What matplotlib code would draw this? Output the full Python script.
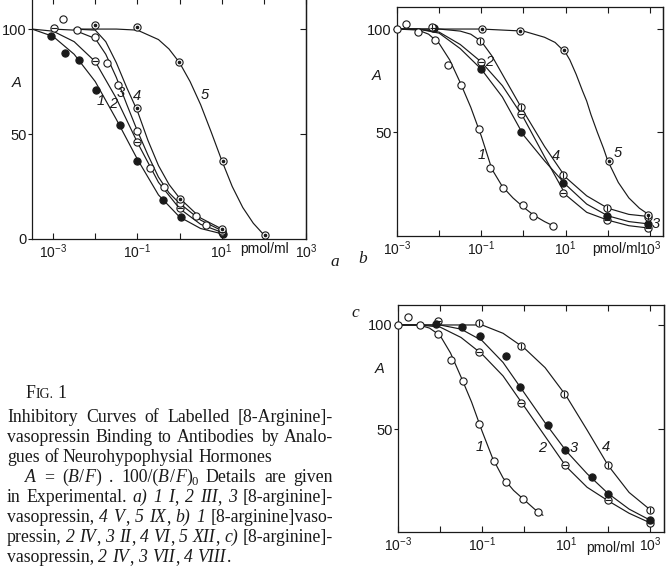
import numpy as np
import matplotlib
matplotlib.use("Agg")
import matplotlib.pyplot as plt
from matplotlib.ticker import FixedLocator, FixedFormatter, NullLocator
from matplotlib.transforms import IdentityTransform

plt.rcParams['font.family'] = ['Liberation Sans', 'DejaVu Sans']
plt.rcParams['mathtext.fontset'] = 'custom'
plt.rcParams['mathtext.rm'] = 'Liberation Sans'
plt.rcParams['mathtext.it'] = 'Liberation Sans:italic'
plt.rcParams['mathtext.sf'] = 'Liberation Sans'

INK = '#1a1a1a'
W, H = 670, 567

# ---------------- data (x as log10 of concentration in pmol/ml, y = A) ----------------
# panel a : points
a1_x = [-3.04, -2.71, -2.39, -1.97, -1.42, -1.00, -0.39, 0.03, 1.02]
a1_y = [96.8, 88.6, 85.4, 71.1, 54.4, 37.3, 18.7, 10.5, 2.4]
a2_x = [-2.98, -2.0, -1.0, 0.0, 1.0]
a2_y = [100.5, 84.6, 46.0, 14.6, 3.2]
a3_x = [-2.76, -2.43, -2.0, -1.73, -1.45, -1.0, -0.70, -0.36, 0.0, 0.40, 0.63, 1.0]
a3_y = [104.6, 99.4, 96.3, 83.8, 73.5, 51.6, 33.7, 24.6, 17.0, 11.1, 6.7, 4.0]
a4_x = [-2.0, -1.0, 0.0, 1.0]
a4_y = [101.8, 62.3, 19.0, 4.8]
a5_x = [-1.02, -0.02, 1.02, 2.03]
a5_y = [100.8, 84.3, 37.0, 1.9]
# panel a : fitted curves
a1_cx = [-3.5, -3.0, -2.5, -2.0, -1.5, -1.0, -0.5, 0.0, 0.5, 1.0]
a1_cy = [100, 96.5, 88, 75, 57, 38, 21, 10.5, 5, 2.5]
a2_cx = [-3.5, -3.0, -2.5, -2.0, -1.5, -1.0, -0.5, 0.0, 0.5, 1.0]
a2_cy = [100, 99, 94, 84.5, 67, 46, 27, 14.5, 7, 3.2]
a3_cx = [-3.0, -2.5, -2.0, -1.75, -1.5, -1.25, -1.0, -0.75, -0.5, -0.25, 0.0, 0.5, 1.0]
a3_cy = [100, 99.5, 95.5, 88, 77, 64, 51.5, 40, 29.5, 22, 17, 9, 4]
a4_cx = [-2.5, -2.0, -1.75, -1.5, -1.25, -1.0, -0.75, -0.5, -0.25, 0.0, 0.5, 1.0]
a4_cy = [100, 99.5, 94, 84, 72, 61, 47, 35, 26, 19.5, 10, 4.8]
a5_cx = [-2.5, -1.5, -1.0, -0.5, -0.25, 0.0, 0.25, 0.5, 0.75, 1.0, 1.25, 1.5, 1.75, 2.0]
a5_cy = [100, 100, 99.5, 95, 90.5, 84, 75, 64, 51, 37.5, 25, 15, 7.5, 2]

# panel b : points
b1_x = [-3.0, -2.78, -2.51, -2.11, -1.80, -1.48, -1.06, -0.79, -0.49, 0.0, 0.22, 0.70]
b1_y = [100, 102.4, 98.5, 94.8, 82.3, 72.6, 51.6, 32.6, 23.0, 14.6, 9.4, 4.4]
b2_x = [-2.15, -1.0, -0.07, 0.94, 1.99, 2.95]
b2_y = [100.5, 84.1, 58.7, 20.5, 7.3, 3.3]
b3_x = [-2.12, -1.0, -0.07, 0.94, 1.99, 2.95]
b3_y = [100.5, 80.4, 49.9, 25.1, 9.2, 5.3]
b4_x = [-2.18, -1.03, -0.07, 0.94, 1.99, 2.95]
b4_y = [100.8, 94.3, 62.0, 29.1, 13.0, 8.9]
b5_x = [-0.99, -0.08, 0.95, 2.02, 2.96]
b5_y = [100, 99.2, 89.8, 35.9, 9.5]
# panel b : fitted curves
b1_cx = [-3.0, -2.5, -2.25, -2.0, -1.75, -1.5, -1.25, -1.0, -0.75, -0.5, -0.25, 0.0, 0.25, 0.5, 0.7]
b1_cy = [100, 99.5, 97.5, 93, 85, 74, 62, 48, 32, 23.5, 18, 13.5, 9.5, 6.5, 4.5]
b2_cx = [-3.0, -2.5, -2.0, -1.5, -1.0, -0.5, 0.0, 0.5, 1.0, 1.5, 2.0, 2.5, 3.0]
b2_cy = [100, 100, 98.5, 92.5, 84, 72.5, 57, 38, 19.5, 11, 7.2, 4.5, 3.3]
b3_cx = [-3.0, -2.5, -2.0, -1.5, -1.0, -0.5, 0.0, 0.5, 1.0, 1.5, 2.0, 2.5, 3.0]
b3_cy = [100, 100, 98, 90.5, 80.5, 67, 48.5, 36, 24.5, 15, 9.3, 6.5, 5.3]
b4_cx = [-3.0, -2.0, -1.5, -1.25, -1.0, -0.75, -0.5, -0.25, 0.0, 0.5, 1.0, 1.5, 2.0, 2.5, 3.0]
b4_cy = [100, 100, 99, 97.5, 94, 87, 78, 69, 60, 43, 28, 19, 13, 10, 8.9]
b5_cx = [-3.0, -1.0, -0.5, 0.0, 0.5, 0.75, 1.0, 1.1, 1.25, 1.4, 1.5, 1.6, 1.75, 1.9, 2.0,
         2.25, 2.5, 2.75, 3.0]
b5_cy = [100, 100, 99.5, 99, 96, 93.5, 88.5, 85, 78, 70, 65, 58.5, 50, 42, 36,
         25.5, 18, 13, 9.5]

# panel c : points
c1_x = [-3.0, -2.76, -2.48, -2.06, -1.73, -1.45, -1.07, -0.72, -0.44, -0.02, 0.32]
c1_y = [100, 103.7, 100, 95.5, 83.2, 73.3, 52.4, 34.8, 24.7, 16.5, 10.0]
c2_x = [-2.06, -1.07, -0.08, 0.97, 1.99, 2.99]
c2_y = [102, 87.2, 62.7, 32.5, 15.8, 4.9]
c3_x = [-2.1, -1.48, -1.06, -0.44, -0.09, 0.56, 0.97, 1.61, 1.99, 2.99]
c3_y = [100.3, 98.8, 94.8, 85.3, 70.0, 51.7, 40.0, 26.9, 18.6, 6.2]
c4_x = [-1.07, -0.08, 0.96, 1.99, 2.99]
c4_y = [100.8, 90.1, 67.0, 32.5, 11.2]
# panel c : fitted curves
c1_cx = [-3.0, -2.5, -2.25, -2.0, -1.75, -1.5, -1.25, -1.0, -0.75, -0.5, -0.25, 0.0, 0.25, 0.45]
c1_cy = [100, 100, 98.5, 95, 86.5, 75, 63, 49, 36, 26.5, 20.5, 16, 11.5, 8.5]
c2_cx = [-3.0, -2.5, -2.0, -1.5, -1.0, -0.5, 0.0, 0.5, 1.0, 1.5, 2.0, 2.5, 3.0]
c2_cy = [100, 100, 99, 94, 86, 75.5, 61, 46.5, 32, 22, 15.5, 9.5, 4.9]
c3_cx = [-3.0, -2.0, -1.5, -1.0, -0.5, 0.0, 0.5, 1.0, 1.5, 2.0, 2.5, 3.0]
c3_cy = [100, 100, 98, 92.5, 82, 67.5, 53, 39.5, 28.5, 19, 11.5, 6.2]
c4_cx = [-3.0, -1.0, -0.5, 0.0, 0.5, 1.0, 1.5, 2.0, 2.5, 3.0]
c4_cy = [100, 100, 96, 89, 79.5, 66, 49.5, 32.5, 19.5, 11.2]

x_tick_exps = [-3, -2, -1, 0, 1, 2, 3]
x_tick_labels = ['$10^{-3}$', '', '$10^{-1}$', '', '$10^{1}$', '', '$10^{3}$']
x_unit = 'pmol/ml'
y_label = 'A'

caption_lines = [
    "Inhibitory Curves of Labelled [8-Arginine]-",
    "vasopressin Binding to Antibodies by Analo-",
    "gues of Neurohypophysial Hormones",
    "*A* = (*B*/*F*) . 100/(*B*/*F*)~0~ Details are given",
    "in Experimental. *a)* *1* *I*, *2* *III*, *3* [8-arginine]-",
    "vasopressin, *4* *V*, *5* *IX*, *b)* *1* [8-arginine]vaso-",
    "pressin, *2* *IV*, *3* *II*, *4* *VI*, *5* *XII*, *c)* [8-arginine]-",
    "vasopressin, *2* *IV*, *3* *VII*, *4* *VIII*.",
]
caption_justify = [True, True, False, True, True, True, True, False]
caption_indent = [7, 7, 7, 25, 7, 7, 7, 7]

# ---------------- figure ----------------
fig = plt.figure(figsize=(6.7, 5.67), dpi=100)
fig.patch.set_facecolor('white')


def px_axes(l, t, r, b):
    return fig.add_axes([l / W, 1 - b / H, (r - l) / W, (b - t) / H])


def setup(ax, xlim_exp, ylim, yticks, ylabels):
    ax.set_xscale('log')
    ax.set_xlim(10 ** xlim_exp[0], 10 ** xlim_exp[1])
    ax.set_ylim(*ylim)
    ax.xaxis.set_major_locator(FixedLocator([10.0 ** e for e in x_tick_exps]))
    ax.xaxis.set_major_formatter(FixedFormatter(x_tick_labels))
    ax.xaxis.set_minor_locator(NullLocator())
    ax.tick_params(axis='x', direction='in', top=True, bottom=True, length=4.5,
                   width=0.8, color=INK, labelsize=10, pad=2.5, labelcolor=INK)
    ax.set_yticks(yticks)
    ax.set_yticklabels(ylabels)
    ax.tick_params(axis='y', direction='out', left=True, right=False, length=3,
                   width=0.8, color=INK, labelsize=10.5, pad=1, labelcolor=INK)
    sec = ax.secondary_yaxis('right')
    sec.set_yticks([v for v in yticks if v > 0])
    sec.tick_params(direction='in', length=4, width=0.8, color=INK, labelright=False)
    sec.spines['right'].set_color(INK)
    sec.spines['right'].set_linewidth(0.9)
    for s in ax.spines.values():
        s.set_color(INK)
        s.set_linewidth(0.9)


def curve(ax, cx, cy):
    ax.plot(10 ** np.asarray(cx), cy, color=INK, lw=0.85, zorder=2,
            solid_capstyle='round', solid_joinstyle='round')


def marks(ax, xs, ys, kind):
    x = 10 ** np.asarray(xs)
    if kind == 'filled':
        ax.plot(x, ys, 'o', ms=5.2, mfc=INK, mec=INK, mew=0.8, ls='none', zorder=3, clip_on=False)
        return
    ax.plot(x, ys, 'o', ms=5.2, mfc='white', mec=INK, mew=0.8, ls='none', zorder=3, clip_on=False)
    if kind == 'dot':
        ax.plot(x, ys, 'o', ms=1.6, color=INK, ls='none', zorder=4, clip_on=False)
    elif kind == 'hbar':
        ax.plot(x, ys, '_', ms=5.0, mew=0.8, color=INK, ls='none', zorder=4, clip_on=False)
    elif kind == 'vbar':
        ax.plot(x, ys, '|', ms=5.0, mew=0.8, color=INK, ls='none', zorder=4, clip_on=False)


# panel a (top edge just above the picture, as in the scan)
axa = px_axes(32, -2, 306, 239)
setup(axa, (-3.5, 3.0), (0, 114.8), [0, 50, 100], ['0', '50', '100'])
for cx, cy in [(a1_cx, a1_cy), (a2_cx, a2_cy), (a3_cx, a3_cy), (a4_cx, a4_cy), (a5_cx, a5_cy)]:
    curve(axa, cx, cy)
marks(axa, a1_x, a1_y, 'filled')
marks(axa, a2_x, a2_y, 'hbar')
marks(axa, a3_x, a3_y, 'open')
marks(axa, a4_x, a4_y, 'dot')
marks(axa, a5_x, a5_y, 'dot')

# panel b
axb = px_axes(397, 7, 663, 236)
setup(axb, (-3.0, 3.31), (-0.5, 110.7), [50, 100], ['50', '100'])
for cx, cy in [(b1_cx, b1_cy), (b2_cx, b2_cy), (b3_cx, b3_cy), (b4_cx, b4_cy), (b5_cx, b5_cy)]:
    curve(axb, cx, cy)
marks(axb, b1_x, b1_y, 'open')
marks(axb, b2_x, b2_y, 'hbar')
marks(axb, b3_x, b3_y, 'filled')
marks(axb, b4_x, b4_y, 'vbar')
marks(axb, b5_x, b5_y, 'dot')

# panel c
axc = px_axes(398, 305, 664, 532)
setup(axc, (-3.0, 3.33), (0.5, 109.6), [50, 100], ['50', '100'])
for cx, cy in [(c1_cx, c1_cy), (c2_cx, c2_cy), (c3_cx, c3_cy), (c4_cx, c4_cy)]:
    curve(axc, cx, cy)
marks(axc, c1_x, c1_y, 'open')
marks(axc, c2_x, c2_y, 'hbar')
marks(axc, c3_x, c3_y, 'filled')
marks(axc, c4_x, c4_y, 'vbar')


def ptext(x, y, s, **kw):
    d = dict(ha='center', va='center', color=INK)
    d.update(kw)
    fig.text(x / W, 1 - y / H, s, **d)


# axis unit labels and "A" labels
for (x, y) in [(265, 249), (617, 249), (611, 548)]:
    ptext(x, y, x_unit, fontsize=10)
for (x, y) in [(17, 83), (377, 76), (380, 369)]:
    ptext(x, y, y_label, fontsize=10.5, style='italic')

# curve numbers
num_kw = dict(fontsize=10.5, style='italic')
for (x, y, s) in [(101, 101, '1'), (113, 104, '2'), (121, 93, '3'), (137, 96, '4'), (205, 95, '5'),
                  (482, 155, '1'), (489, 62, '2'), (556, 156, '4'), (618, 153, '5'), (656, 224, '3'),
                  (480, 447, '1'), (542, 448, '2'), (574, 448, '3'), (606, 447, '4')]:
    ptext(x, y, s, **num_kw)

# panel letters
for (x, y, s) in [(335, 262, 'a'), (363, 259, 'b'), (355, 313, 'c')]:
    ptext(x, y, s, fontsize=12.5, style='italic', family='Liberation Serif')

# ---------------- caption ----------------
renderer = fig.canvas.get_renderer()
SERIF = 'Liberation Serif'
CAP_FS = 12.8
ID = IdentityTransform()


def parse_word(w):
    pieces, it, sub, cur = [], False, False, ''
    for ch in w:
        if ch in '*~':
            if cur:
                pieces.append((cur, it, sub))
                cur = ''
            if ch == '*':
                it = not it
            else:
                sub = not sub
        else:
            cur += ch
    if cur:
        pieces.append((cur, it, sub))
    return pieces


def make_piece(s, it, sub, fs=CAP_FS):
    return fig.text(0, 0, s, fontsize=fs * (0.72 if sub else 1.0), family=SERIF,
                    style='italic' if it else 'normal', color=INK, transform=ID,
                    ha='left', va='baseline')


def draw_line(line, x0, x1, y_img, justify):
    yb = H - y_img
    words = []
    for w in line.split(' '):
        arts = []
        wsum = 0.0
        for (s, it, sub) in parse_word(w):
            t = make_piece(s, it, sub)
            wd = t.get_window_extent(renderer).width
            arts.append((t, wd, sub, it))
            wsum += wd + (0.6 if it else 0.0)
        words.append((arts, wsum))
    total = sum(ws for _, ws in words)
    if justify and len(words) > 1:
        gap = (x1 - x0 - total) / (len(words) - 1)
    else:
        gap = 0.24 * CAP_FS * 100 / 72
    x = x0
    for arts, ws in words:
        xx = x
        for (t, wd, sub, it) in arts:
            t.set_position((xx, yb - (3.0 if sub else 0.0)))
            xx += wd + (0.6 if it else 0.0)
        x += ws + gap


caption_baselines = [422, 442, 462, 482, 502, 522, 542, 562]
for line, just, ind, yb in zip(caption_lines, caption_justify, caption_indent, caption_baselines):
    draw_line(line, ind, 333, yb, just)

# "FIG. 1" with small capitals
t1 = make_piece('F', False, False)
t1.set_position((25, H - 398))
w1 = t1.get_window_extent(renderer).width
t2 = make_piece('IG.', False, False, fs=CAP_FS * 0.78)
t2.set_position((25 + w1 + 0.5, H - 398))
w2 = t2.get_window_extent(renderer).width
t3 = make_piece('1', False, False)
t3.set_position((25 + w1 + w2 + 5, H - 398))

fig.savefig('out.png', dpi=100, facecolor='white')
